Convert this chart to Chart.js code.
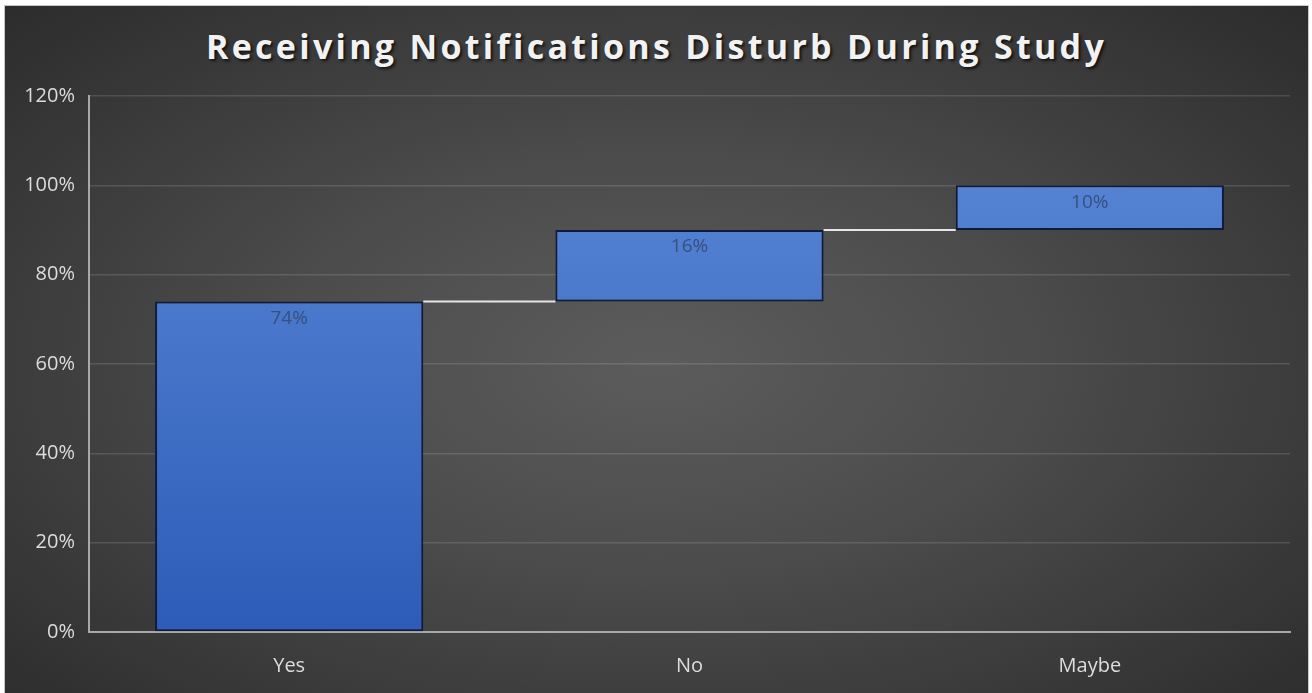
<!DOCTYPE html>
<html lang="en">
<head>
    <meta charset="UTF-8">
    <title>Receiving Notifications Disturb During Study</title>
    <script src="https://cdn.jsdelivr.net/npm/chart.js"></script>
    <style>
        html, body {
            margin: 0;
            padding: 0;
            background: #ffffff;
        }
        #frame {
            position: absolute;
            left: 4px;
            top: 5px;
            width: 1303px;
            height: 688px;
            border: 1px solid #c8c8c8;
            border-bottom: none;
            background: radial-gradient(ellipse farthest-corner at 50% 52%, #5c5c5c 0%, #4c4c4c 40%, #2c2c2c 100%);
            overflow: hidden;
        }
        #title {
            position: absolute;
            left: 0;
            right: 0;
            top: 17px;
            text-align: center;
            font-family: "Open Sans", sans-serif;
            font-weight: bold;
            font-size: 34px;
            letter-spacing: 3.3px;
            color: #f2f2f2;
            text-shadow: 2px 2px 3px rgba(0, 0, 0, 0.7);
        }
        #wrap {
            position: absolute;
            left: 0;
            top: 0;
            width: 1303px;
            height: 688px;
        }
    </style>
</head>
<body>
<div id="frame">
    <div id="title">Receiving Notifications Disturb During Study</div>
    <div id="wrap"><canvas id="chart"></canvas></div>
</div>
<script>
    const categories = ['Yes', 'No', 'Maybe'];
    const shares = [74, 16, 10];
    const yTicks = [0, 20, 40, 60, 80, 100, 120];

    // waterfall: each bar floats from the running total to the new total
    const ranges = [];
    let run = 0;
    shares.forEach(v => {
        ranges.push([run, run + v]);
        run += v;
    });

    const tickColor = '#dcdcdc';
    const tickFont = { family: 'Open Sans', size: 20 };

    // thin white steps between neighbouring bars
    const connectors = {
        id: 'connectors',
        afterDatasetsDraw(chart) {
            const ctx = chart.ctx;
            const bars = chart.getDatasetMeta(0).data;
            const y = chart.scales.y;
            ctx.save();
            ctx.strokeStyle = '#e6e6e6';
            ctx.lineWidth = 2;
            for (let i = 0; i < bars.length - 1; i++) {
                const level = y.getPixelForValue(ranges[i][1]);
                ctx.beginPath();
                ctx.moveTo(bars[i].x + bars[i].width / 2, level);
                ctx.lineTo(bars[i + 1].x - bars[i + 1].width / 2, level);
                ctx.stroke();
            }
            ctx.restore();
        }
    };

    // value text just under the top edge of every bar
    const valueLabels = {
        id: 'valueLabels',
        afterDatasetsDraw(chart) {
            const ctx = chart.ctx;
            const bars = chart.getDatasetMeta(0).data;
            const y = chart.scales.y;
            ctx.save();
            ctx.font = '19px "Open Sans"';
            ctx.fillStyle = '#37507f';
            ctx.textAlign = 'center';
            ctx.textBaseline = 'middle';
            bars.forEach((bar, i) => {
                ctx.fillText(shares[i] + '%', bar.x, y.getPixelForValue(ranges[i][1]) + 17);
            });
            ctx.restore();
        }
    };

    const ctx = document.getElementById('chart').getContext('2d');
    new Chart(ctx, {
        type: 'bar',
        data: {
            labels: categories,
            datasets: [{
                data: ranges,
                backgroundColor(c) {
                    const area = c.chart.chartArea;
                    if (!area) return '#4472c4';
                    const g = c.chart.ctx.createLinearGradient(0, area.top, 0, area.bottom);
                    g.addColorStop(0, '#5d8ad8');
                    g.addColorStop(1, '#2c5cb8');
                    return g;
                },
                borderColor: '#0e1b3c',
                borderWidth: 2,
                borderSkipped: false,
                barPercentage: 0.67,
                categoryPercentage: 1
            }]
        },
        options: {
            responsive: true,
            maintainAspectRatio: false,
            animation: false,
            layout: { padding: { top: 90, right: 18, left: 0, bottom: 0 } },
            plugins: {
                legend: { display: false },
                tooltip: { enabled: false }
            },
            scales: {
                x: {
                    afterFit(s) { s.height = 62; },
                    grid: { display: false, drawTicks: false },
                    border: { color: '#a8a8a8', width: 2 },
                    ticks: { color: tickColor, font: tickFont, padding: 22 }
                },
                y: {
                    min: 0,
                    max: 120,
                    afterFit(s) { s.width = 84; },
                    afterBuildTicks(s) { s.ticks = yTicks.map(v => ({ value: v })); },
                    grid: { color: 'rgba(255,255,255,0.13)', lineWidth: 1.5, drawTicks: false },
                    border: { color: '#a8a8a8', width: 2 },
                    ticks: {
                        color: tickColor,
                        font: tickFont,
                        padding: 14,
                        callback: v => v + '%'
                    }
                }
            }
        },
        plugins: [connectors, valueLabels]
    });
</script>
</body>
</html>
